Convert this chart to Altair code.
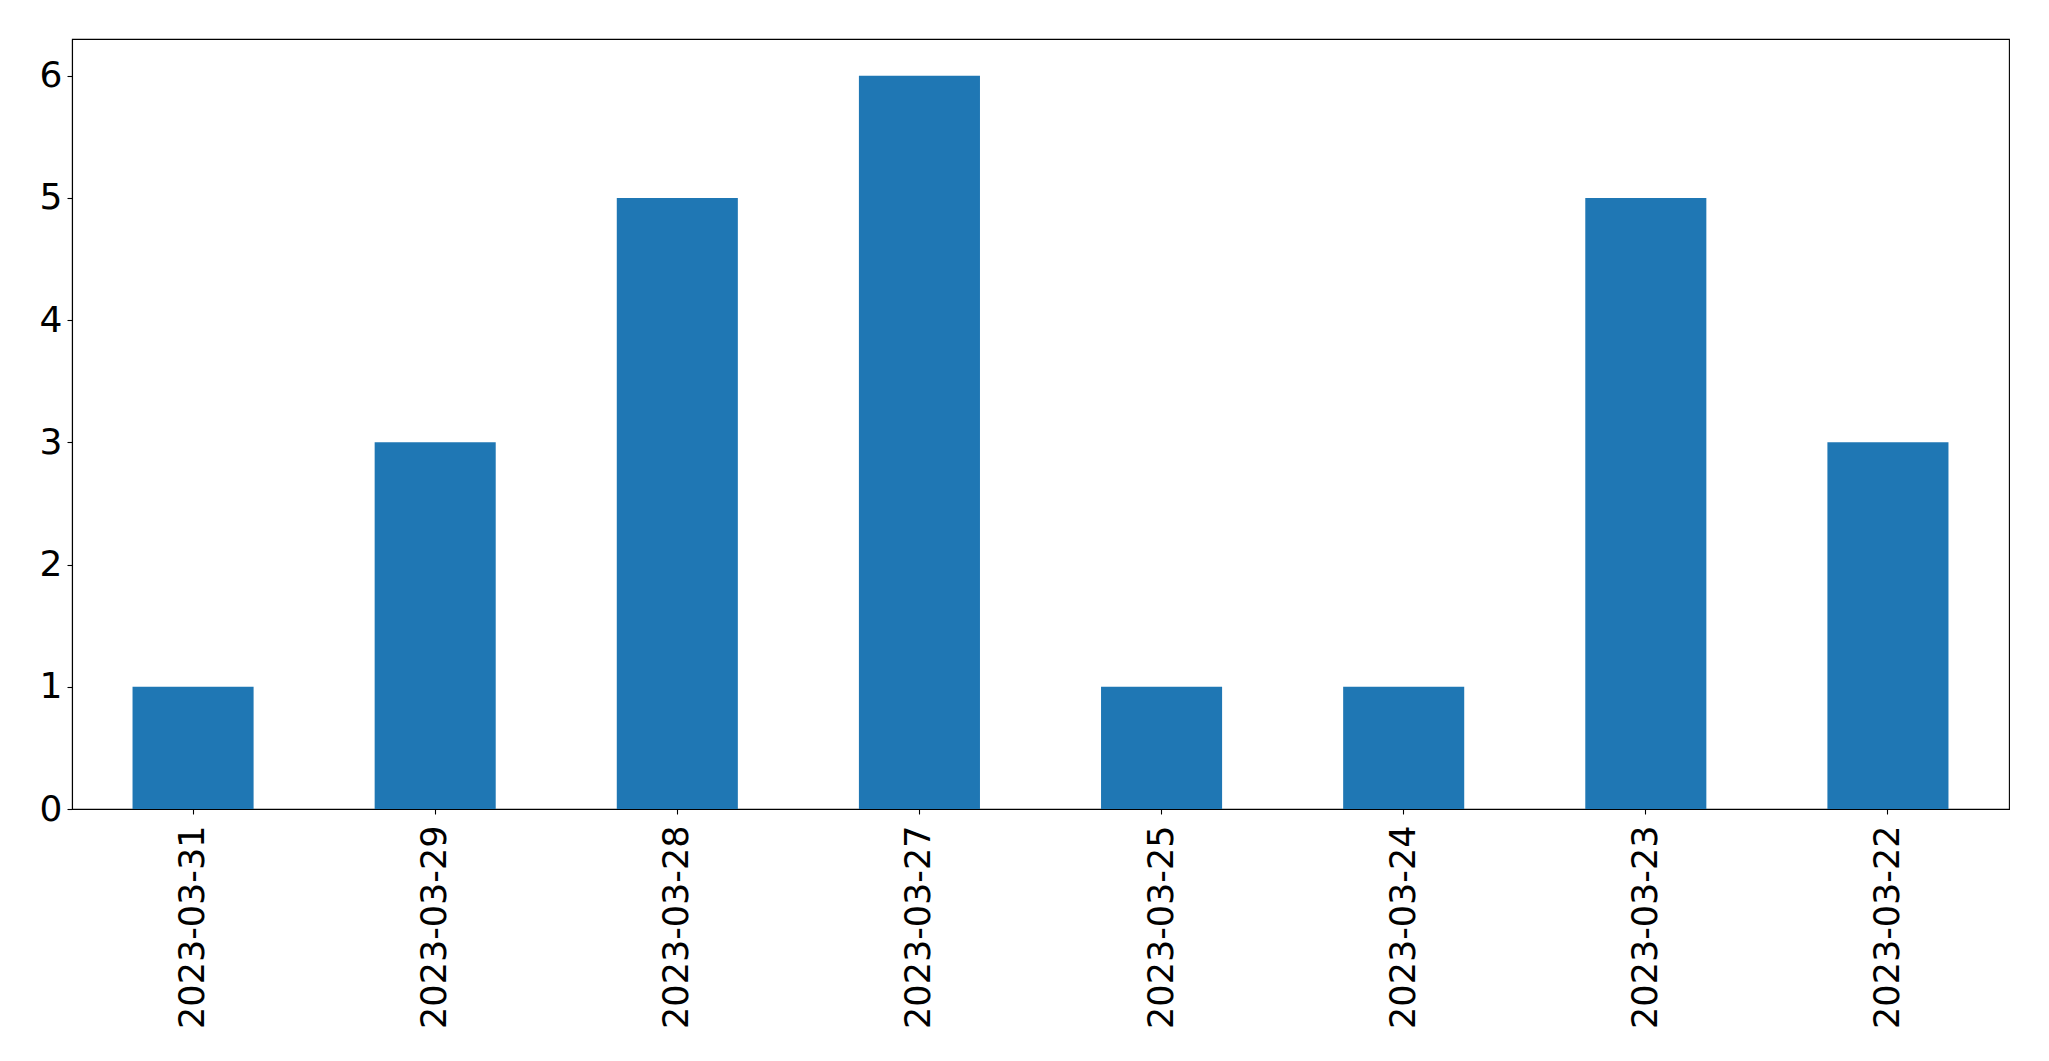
import altair as alt
import pandas as pd

dates = ["2023-03-31", "2023-03-29", "2023-03-28", "2023-03-27",
         "2023-03-25", "2023-03-24", "2023-03-23", "2023-03-22"]
counts = [1, 3, 5, 6, 1, 1, 5, 3]

df = pd.DataFrame({"date": dates, "count": counts})

chart = alt.Chart(df).mark_bar(color="#1f77b4").encode(
    x=alt.X("date:N", sort=None, title=None,
            scale=alt.Scale(paddingInner=0.5, paddingOuter=0.25),
            axis=alt.Axis(labelAngle=-90, labelAlign="right", labelBaseline="middle",
                          labelFontSize=35, labelFont="DejaVu Sans", labelColor="black",
                          labelLimit=600,
                          tickSize=5, tickColor="black", tickWidth=1.1,
                          domainColor="black", domainWidth=1.1, labelPadding=11)),
    y=alt.Y("count:Q", title=None,
            scale=alt.Scale(domain=[0, 6.3], nice=False, zero=True),
            axis=alt.Axis(values=[0, 1, 2, 3, 4, 5, 6], grid=False, format="d",
                          labelFontSize=36, labelFont="DejaVu Sans", labelColor="black",
                          tickSize=5, tickColor="black", tickWidth=1.1,
                          domainColor="black", domainWidth=1.1, labelPadding=5)),
).properties(
    width=1937, height=770,
    autosize=alt.AutoSizeParams(type="none"),
    padding={"left": 64, "top": 31, "right": 30, "bottom": 230},
).configure_view(stroke="black", strokeWidth=1.1)

chart.save("out.html", embed_options={"renderer": "svg", "actions": False})
